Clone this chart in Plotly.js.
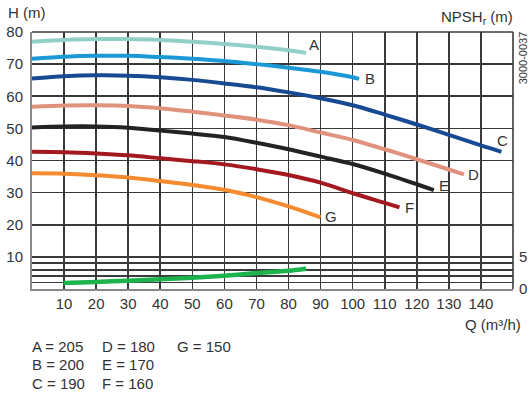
<!DOCTYPE html>
<html>
<head>
<meta charset="utf-8">
<script src="https://cdn.plot.ly/plotly-3.0.1.min.js"></script>
<style>html,body{margin:0;padding:0;background:#fff;}#chart{width:529px;height:396px;}</style>
</head>
<body>
<div id="chart"></div>
<script>
// ---- data ----
const curveNames = ['A', 'B', 'C', 'D', 'E', 'F', 'G'];
const impellerDiameters = [205, 200, 190, 180, 170, 160, 150];

const qA = [0, 10, 20, 30, 40, 50, 60, 70, 80, 85.5];
const hA = [77.0, 77.5, 77.8, 77.8, 77.5, 77.0, 76.3, 75.4, 74.3, 73.5];

const qB = [0, 10, 20, 30, 40, 50, 60, 70, 80, 90, 100, 102];
const hB = [71.7, 72.3, 72.6, 72.6, 72.2, 71.7, 71.0, 70.0, 68.9, 67.6, 65.9, 65.4];

const qC = [0, 10, 20, 30, 40, 50, 60, 70, 80, 90, 100, 110, 120, 130, 140, 146.4];
const hC = [65.5, 66.2, 66.5, 66.4, 65.9, 65.1, 64.0, 62.8, 61.2, 59.4, 57.2, 54.3, 51.2, 48.0, 44.7, 42.7];

const qD = [0, 10, 20, 30, 40, 50, 60, 70, 80, 90, 100, 110, 120, 130, 134.7];
const hD = [56.7, 57.1, 57.2, 57.0, 56.3, 55.2, 54.0, 52.7, 51.0, 48.7, 46.4, 43.5, 40.4, 37.2, 35.7];

const qE = [0, 10, 20, 30, 40, 50, 60, 70, 80, 90, 100, 110, 120, 125.3];
const hE = [50.3, 50.6, 50.6, 50.2, 49.3, 48.4, 47.3, 45.5, 43.5, 41.2, 38.9, 35.9, 32.6, 30.8];

const qF = [0, 10, 20, 30, 40, 50, 60, 70, 80, 90, 100, 110, 114.6];
const hF = [42.7, 42.6, 42.2, 41.6, 40.7, 39.8, 38.8, 37.3, 35.5, 33.1, 29.8, 26.8, 25.4];

const qG = [0, 10, 20, 30, 40, 50, 60, 70, 80, 90];
const hG = [36.0, 35.9, 35.4, 34.7, 33.6, 32.4, 30.9, 28.6, 25.7, 22.3];

const qNPSH = [9.8, 20, 30, 40, 50, 60, 70, 80, 85.5];
const npsh = [0.93, 1.08, 1.3, 1.5, 1.76, 2.07, 2.48, 2.85, 3.16];

const xTickVals = [10, 20, 30, 40, 50, 60, 70, 80, 90, 100, 110, 120, 130, 140];
const yTickVals = [10, 20, 30, 40, 50, 60, 70, 80];
const npshTickVals = [0, 5];
const npshMinorVals = [1, 2, 3, 4];

// ---- styling ----
const FONT = 'Liberation Sans, Arial, Helvetica, sans-serif';
const TXT = '#333333';
const GRID = '#3a3a3a';
const curveQ = [qA, qB, qC, qD, qE, qF, qG];
const curveH = [hA, hB, hC, hD, hE, hF, hG];
const curveColors = ['#92cfc8', '#1b98d6', '#174a93', '#e0927c', '#242222', '#a3191f', '#f58a2e'];
const labelShift = [[1, 8, 'left'], [4, 0, 'left'], [1, 11, 'center'], [2, 0, 'left'], [3, 5, 'left'], [4, 0, 'left'], [2, 1, 'left']];

const traces = curveNames.map((n, i) => ({
  x: curveQ[i], y: curveH[i], type: 'scatter', mode: 'lines',
  line: {color: curveColors[i], width: 4, shape: 'spline', smoothing: 0.8},
  hoverinfo: 'skip', name: n
}));
traces.push({
  x: qNPSH, y: npsh, type: 'scatter', mode: 'lines', yaxis: 'y2',
  line: {color: '#1db34c', width: 4.5, shape: 'spline', smoothing: 0.8},
  hoverinfo: 'skip', name: 'NPSH'
});

const annotations = curveNames.map((n, i) => {
  const q = curveQ[i], h = curveH[i];
  return {
    x: q[q.length - 1], y: h[h.length - 1], xref: 'x', yref: 'y',
    text: n, showarrow: false, xanchor: labelShift[i][2], yanchor: 'middle',
    xshift: labelShift[i][0], yshift: labelShift[i][1],
    font: {family: FONT, size: 15, color: TXT}
  };
});

// legend of impeller diameters (three columns)
const colX = [-0.004, 0.1415, 0.2975];
const rowY = [-0.2218, -0.2938, -0.3658];
curveNames.forEach((n, i) => {
  annotations.push({
    x: colX[Math.floor(i / 3)], y: rowY[i % 3], xref: 'paper', yref: 'paper',
    text: n + ' = ' + impellerDiameters[i], showarrow: false,
    xanchor: 'left', yanchor: 'middle',
    font: {family: FONT, size: 15, color: TXT}
  });
});

// axis titles and marks
annotations.push(
  {x: -0.054, y: 1.0751, xref: 'paper', yref: 'paper', text: 'H (m)', showarrow: false,
   xanchor: 'left', yanchor: 'middle', font: {family: FONT, size: 15, color: TXT}},
  {x: 1.004, y: 1.057, xref: 'paper', yref: 'paper', text: 'NPSH<sub>r</sub> (m)', showarrow: false,
   xanchor: 'right', yanchor: 'middle', font: {family: FONT, size: 15, color: TXT}},
  {x: 1.02, y: -0.140, xref: 'paper', yref: 'paper', text: 'Q (m³/h)', showarrow: false,
   xanchor: 'right', yanchor: 'middle', font: {family: FONT, size: 15, color: TXT}},
  {x: 1.02, y: 0.9, xref: 'paper', yref: 'paper', text: '3000-0037', showarrow: false,
   textangle: -90, xanchor: 'center', yanchor: 'middle', font: {family: FONT, size: 11, color: TXT}}
);

const layout = {
  width: 529, height: 396,
  margin: {l: 32, r: 16, t: 32, b: 107, pad: 0},
  paper_bgcolor: '#ffffff', plot_bgcolor: '#ffffff',
  showlegend: false,
  font: {family: FONT, size: 15, color: TXT},
  xaxis: {
    range: [0, 150], tickvals: xTickVals, ticks: '', showgrid: true,
    gridcolor: GRID, gridwidth: 1.6, zeroline: false,
    showline: true, linecolor: '#8a8a8a', linewidth: 2,
    tickfont: {family: FONT, size: 15, color: TXT}, fixedrange: true
  },
  yaxis: {
    range: [0, 80], tickvals: yTickVals, ticks: '', showgrid: true,
    gridcolor: GRID, gridwidth: 1.6, zeroline: false,
    showline: true, linecolor: '#8a8a8a', linewidth: 2,
    tickfont: {family: FONT, size: 15, color: TXT}, ticklabelstandoff: 4, fixedrange: true
  },
  yaxis2: {
    overlaying: 'y', side: 'right', range: [0, 40],
    tickvals: npshTickVals, ticks: '',
    minor: {tickvals: npshMinorVals, showgrid: true, gridcolor: GRID, gridwidth: 1.6, ticks: ''},
    showgrid: true, gridcolor: GRID, gridwidth: 1.6, zeroline: false, showline: false,
    tickfont: {family: FONT, size: 15, color: TXT}, ticklabelstandoff: 5, fixedrange: true
  },
  shapes: [
    {type: 'line', xref: 'paper', yref: 'paper', x0: 0, x1: 1, y0: 1, y1: 1, layer: 'below', line: {color: GRID, width: 1.6}},
    {type: 'line', xref: 'paper', yref: 'paper', x0: 1, x1: 1, y0: 0, y1: 1, layer: 'below', line: {color: GRID, width: 1.6}}
  ],
  annotations: annotations
};

Plotly.newPlot('chart', traces, layout, {displayModeBar: false, staticPlot: true});
</script>
</body>
</html>
